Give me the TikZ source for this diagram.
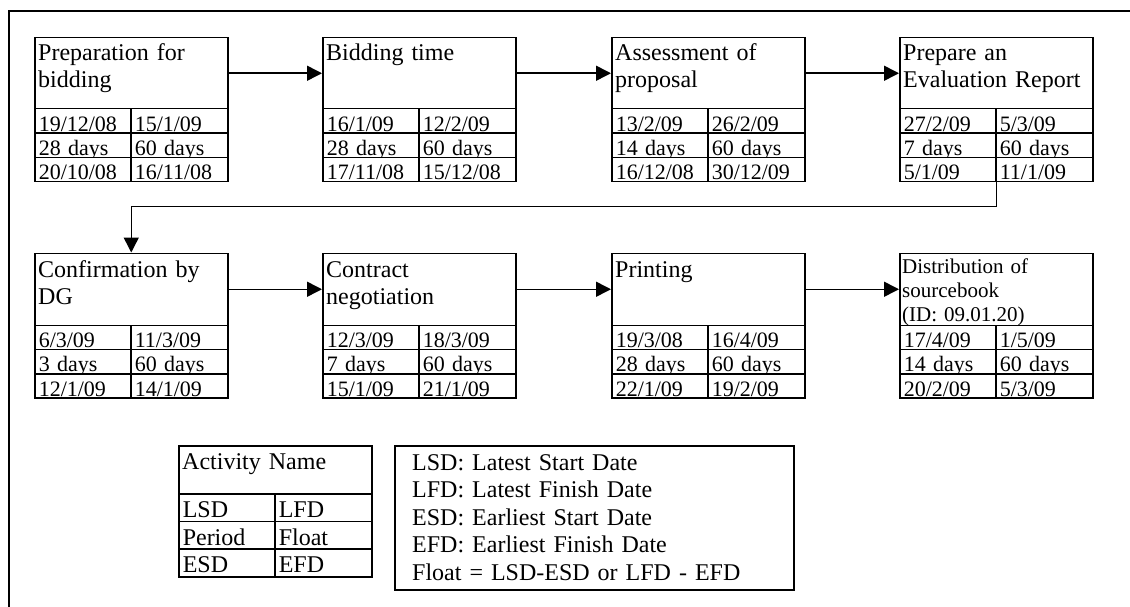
\documentclass[tikz,border=0pt]{standalone}
\usepackage{fontspec}
\setmainfont{Liberation Serif}
\usetikzlibrary{arrows.meta}
\tikzset{
 box/.style={draw, line width=1.5pt, anchor=north west, inner sep=0pt, minimum width=193pt},
 titletext/.style={anchor=base west, inner sep=0pt, text width=186pt, align=left, font=\fontsize{24}{27}\selectfont},
 smalltitle/.style={font=\fontsize{21}{24.2}\selectfont},
 cell/.style={draw, fill=white, line width=1.5pt, anchor=north west, inner xsep=4pt, inner ysep=0pt, minimum height=24.3pt, text height=22.3pt, text depth=2pt, align=left, font=\fontsize{22}{24}\selectfont},
 cellL/.style={cell, text width=88pt},
 cellR/.style={cell, text width=89pt},
 lcell/.style={minimum height=27.7pt, text height=23.7pt, text depth=4pt, font=\fontsize{24}{27}\selectfont},
 arr/.style={line width=1.5pt, -{Triangle[length=15pt,width=15pt]}},
 frame/.style={line width=1.5pt},
}
\newcommand\cells[9]{%
 \node[cellL] (#1-lsd) at (#2,#3) {#4};
 \node[cellR] (#1-lfd) at ({#2+96},#3) {#5};
 \node[cellL] (#1-per) at (#2,{#3+24.3}) {#6};
 \node[cellR] (#1-flt) at ({#2+96},{#3+24.3}) {#7};
 \node[cellL] (#1-esd) at (#2,{#3+48.6}) {#8};
 \node[cellR] (#1-efd) at ({#2+96},{#3+48.6}) {#9};
}
\begin{document}
\begin{tikzpicture}[x=1pt,y=-1pt]
\useasboundingbox (0,0) rectangle (1130,607);
\draw[frame] (9,607) -- (9,11) -- (1130,11);

% Row 1
\node[box, minimum height=71pt] (t1) at (34,37) {};
\node[titletext] (t1-name) at (38,60.5) {Preparation for\\bidding};
\cells{t1}{34}{108}{19/12/08}{15/1/09}{28 days}{60 days}{20/10/08}{16/11/08}

\node[box, minimum height=71pt] (t2) at (322,37) {};
\node[titletext] (t2-name) at (326,60.5) {Bidding time};
\cells{t2}{322}{108}{16/1/09}{12/2/09}{28 days}{60 days}{17/11/08}{15/12/08}

\node[box, minimum height=71pt] (t3) at (611,37) {};
\node[titletext] (t3-name) at (615,60.5) {Assessment of\\proposal};
\cells{t3}{611}{108}{13/2/09}{26/2/09}{14 days}{60 days}{16/12/08}{30/12/09}

\node[box, minimum height=71pt] (t4) at (899,37) {};
\node[titletext] (t4-name) at (903,60.5) {Prepare an\\Evaluation Report};
\cells{t4}{899}{108}{27/2/09}{5/3/09}{7 days}{60 days}{5/1/09}{11/1/09}

% Row 2
\node[box, minimum height=72pt] (t5) at (34,252.5) {};
\node[titletext] (t5-name) at (38,277.5) {Confirmation by\\DG};
\cells{t5}{34}{324.5}{6/3/09}{11/3/09}{3 days}{60 days}{12/1/09}{14/1/09}

\node[box, minimum height=72pt] (t6) at (322,252.5) {};
\node[titletext] (t6-name) at (326,277.5) {Contract\\negotiation};
\cells{t6}{322}{324.5}{12/3/09}{18/3/09}{7 days}{60 days}{15/1/09}{21/1/09}

\node[box, minimum height=72pt] (t7) at (611,252.5) {};
\node[titletext] (t7-name) at (615,277.5) {Printing};
\cells{t7}{611}{324.5}{19/3/08}{16/4/09}{28 days}{60 days}{22/1/09}{19/2/09}

\node[box, minimum height=72pt] (t8) at (899,252.5) {};
\node[titletext, smalltitle] (t8-name) at (902,273.3) {Distribution of\\sourcebook\\(ID: 09.01.20)};
\cells{t8}{899}{324.5}{17/4/09}{1/5/09}{14 days}{60 days}{20/2/09}{5/3/09}

% Connectors
\draw[arr] (t1.east) -- (t2.west);
\draw[arr] (t2.east) -- (t3.west);
\draw[arr] (t3.east) -- (t4.west);
\draw[arr] (t4-esd.south east) -- ++(0,24) -| (t5.north);
\draw[arr] (t5.east) -- (t6.west);
\draw[arr] (t6.east) -- (t7.west);
\draw[arr] (t7.east) -- (t8.west);

% Legend
\node[box, minimum height=48pt] (lg) at (178,445) {};
\node[titletext] (lg-name) at (182,469) {Activity Name};
\node[cellL, lcell] (lg-lsd) at (178,493) {LSD};
\node[cellR, lcell] (lg-lfd) at (274,493) {LFD};
\node[cellL, lcell] (lg-per) at (178,520.7) {Period};
\node[cellR, lcell] (lg-flt) at (274,520.7) {Float};
\node[cellL, lcell] (lg-esd) at (178,548.4) {ESD};
\node[cellR, lcell] (lg-efd) at (274,548.4) {EFD};

\node[draw, line width=1.5pt, anchor=north west, inner sep=0pt, minimum width=399pt, minimum height=144pt] (key) at (394,445) {};
\node[anchor=base west, inner sep=0pt, text width=375pt, align=left, font=\fontsize{24}{27.5}\selectfont] (key-text) at (412,470)
 {LSD: Latest Start Date\\LFD: Latest Finish Date\\ESD: Earliest Start Date\\EFD: Earliest Finish Date\\Float = LSD-ESD or LFD - EFD};
\end{tikzpicture}
\end{document}
